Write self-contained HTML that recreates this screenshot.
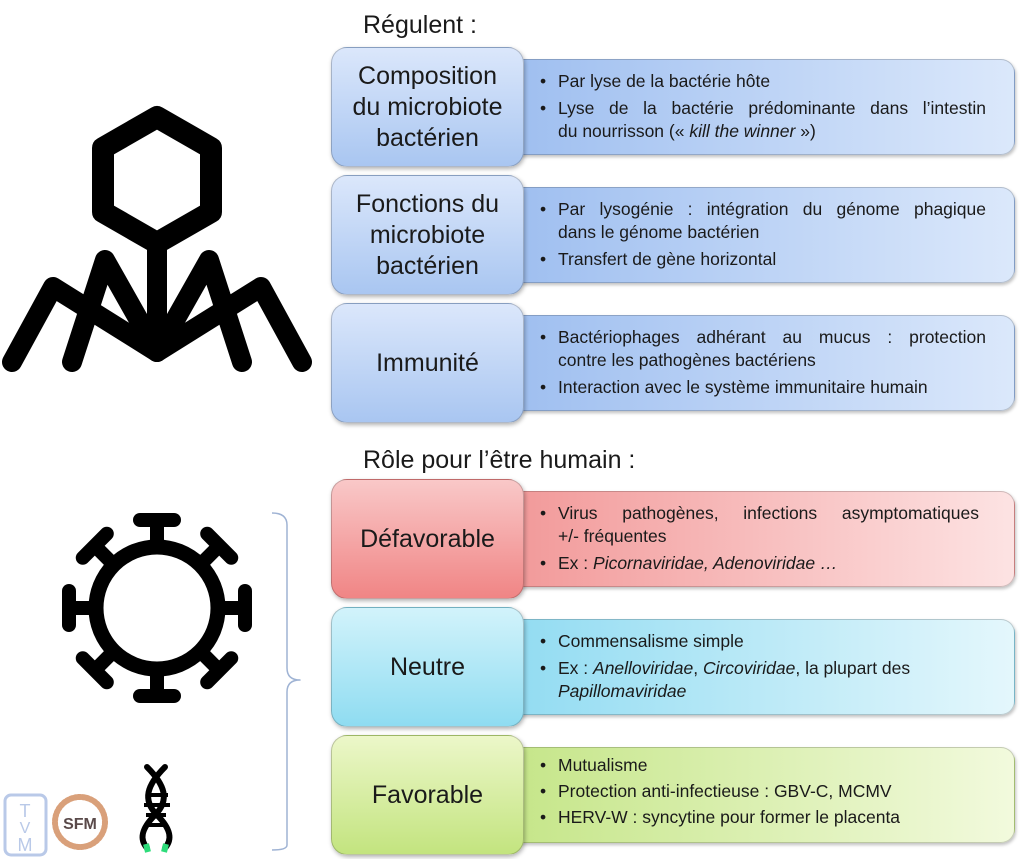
<!DOCTYPE html>
<html><head><meta charset="utf-8"><style>
body{margin:0;width:1024px;height:859px;background:#fff;position:relative;overflow:hidden;font-family:"Liberation Sans",sans-serif;color:#1a1a1a}
.h{position:absolute;font-size:25px}
.r{position:absolute;left:517px;width:498px;height:96px;border-radius:0 14px 14px 0;border:1px solid rgba(0,0,0,.18);box-sizing:border-box;box-shadow:1px 2px 3px rgba(0,0,0,.25)}
.r ul{margin:0;padding:0;list-style:none;position:absolute;left:22px;top:10px;width:450px;font-size:17.5px;line-height:23px}
.r li{position:relative;padding-left:18px;margin-bottom:4px}
.r li:before{content:"•";position:absolute;left:0}
.j{display:block;width:428px;text-align:justify;text-align-last:justify;white-space:nowrap}
.l{position:absolute;left:331px;width:193px;height:120px;border-radius:16px;box-sizing:border-box;border:1px solid rgba(0,0,0,.2);box-shadow:1px 2px 4px rgba(0,0,0,.3);display:flex;align-items:center;justify-content:center;text-align:center;font-size:25px;line-height:31px;white-space:nowrap}
.b .l{background:linear-gradient(#dbe7fb,#a9c6f1)}
.b .r{background:linear-gradient(90deg,#9fbff0,#dbe8fb)}
.red .l{background:linear-gradient(#f9c8c8,#f08585)}
.red .r{background:linear-gradient(90deg,#f29a9a,#fde3e3)}
.cy .l{background:linear-gradient(#d2f3fb,#8fdcf1)}
.cy .r{background:linear-gradient(90deg,#93dcf2,#e4f7fc)}
.gr .l{background:linear-gradient(#ecf7c9,#c3e47f)}
.gr .r{background:linear-gradient(90deg,#c6e68a,#f2fadd)}
</style></head><body>
<div class="h" style="left:363px;top:11px">Régulent :</div>
<div class="h" style="left:363px;top:446px">Rôle pour l’être humain :</div>

<div class="b">
<div class="r" style="top:59px"><ul><li>Par lyse de la bactérie hôte</li><li><span class="j">Lyse de la bactérie prédominante dans l’intestin</span>du nourrisson (« <i>kill the winner</i> »)</li></ul></div>
<div class="l" style="top:47px">Composition<br>du microbiote<br>bactérien</div>
<div class="r" style="top:187px"><ul><li><span class="j">Par lysogénie : intégration du génome phagique</span>dans le génome bactérien</li><li>Transfert de gène horizontal</li></ul></div>
<div class="l" style="top:175px">Fonctions du<br>microbiote<br>bactérien</div>
<div class="r" style="top:315px"><ul><li><span class="j">Bactériophages adhérant au mucus : protection</span>contre les pathogènes bactériens</li><li>Interaction avec le système immunitaire humain</li></ul></div>
<div class="l" style="top:303px">Immunité</div>
</div>

<div class="red">
<div class="r" style="top:491px"><ul><li><span class="j" style="width:421px">Virus pathogènes, infections asymptomatiques</span>+/- fréquentes</li><li>Ex : <i>Picornaviridae, Adenoviridae …</i></li></ul></div>
<div class="l" style="top:479px">Défavorable</div>
</div>
<div class="cy">
<div class="r" style="top:619px"><ul><li>Commensalisme simple</li><li>Ex : <i>Anelloviridae</i>, <i>Circoviridae</i>, la plupart des<br><i>Papillomaviridae</i></li></ul></div>
<div class="l" style="top:607px">Neutre</div>
</div>
<div class="gr">
<div class="r" style="top:747px"><ul style="top:6px"><li style="margin-bottom:3px">Mutualisme</li><li style="margin-bottom:3px">Protection anti-infectieuse : GBV-C, MCMV</li><li>HERV-W : syncytine pour former le placenta</li></ul></div>
<div class="l" style="top:735px">Favorable</div>
</div>

<svg width="1024" height="859" style="position:absolute;left:0;top:0" fill="none" stroke="#000" stroke-linecap="round" stroke-linejoin="round">
<polygon points="157,117 211,148 211,212 157,243 103,212 103,148" stroke-width="22"/>
<line x1="157" y1="243" x2="157" y2="352" stroke-width="20"/>
<polyline points="72,362 105,260 157,352 209,260 242,362" stroke-width="20"/>
<polyline points="12,362 53,287 157,352 261,287 302,362" stroke-width="20"/>
<circle cx="157" cy="608" r="61" stroke-width="15"/>
<g stroke-width="14">
<g id="sp"><line x1="157" y1="547" x2="157" y2="524"/><line x1="140" y1="520" x2="174" y2="520"/></g>
<use href="#sp" transform="rotate(45 157 608)"/><use href="#sp" transform="rotate(90 157 608)"/><use href="#sp" transform="rotate(135 157 608)"/><use href="#sp" transform="rotate(180 157 608)"/><use href="#sp" transform="rotate(225 157 608)"/><use href="#sp" transform="rotate(270 157 608)"/><use href="#sp" transform="rotate(315 157 608)"/>
</g>
<path d="M272,513 Q287,513 287,525 L287,668 Q287,680 300,680 Q287,680 287,692 L287,845 Q287,850 272,850" stroke="#9fb3d4" stroke-width="1.5" stroke-linecap="butt"/>
<path d="M147,767 C165,785 170,800 155,815 C140,830 140,840 147,848 M165,767 C147,785 142,800 157,815 C172,830 172,840 165,848" stroke-width="6"/>
<g stroke-width="4" stroke-linecap="butt"><line x1="146" y1="795" x2="168" y2="795"/><line x1="144" y1="805" x2="170" y2="805"/><line x1="146" y1="815" x2="166" y2="815"/><line x1="146" y1="825" x2="166" y2="825"/></g>
<g stroke="#2ddc7a" stroke-width="6" stroke-linecap="butt"><line x1="146" y1="844" x2="148" y2="852"/><line x1="166" y1="844" x2="164" y2="852"/></g>
<rect x="5" y="795" width="41" height="60" rx="6" stroke="#b9c9e8" stroke-width="3"/>
<text x="25" y="817" font-size="18" fill="#b9c9e8" stroke="none" text-anchor="middle" font-family="Liberation Sans">T</text>
<text x="25" y="833" font-size="16" fill="#b9c9e8" stroke="none" text-anchor="middle" font-family="Liberation Sans">V</text>
<text x="25" y="851" font-size="18" fill="#b9c9e8" stroke="none" text-anchor="middle" font-family="Liberation Sans">M</text>
<circle cx="80" cy="822" r="25" stroke="#d9a07a" stroke-width="6" stroke-dasharray="2 2"/>
<text x="80" y="829" font-size="16" font-weight="bold" fill="#5a4a4a" stroke="none" text-anchor="middle" font-family="Liberation Sans">SFM</text>
</svg>
</body></html>
